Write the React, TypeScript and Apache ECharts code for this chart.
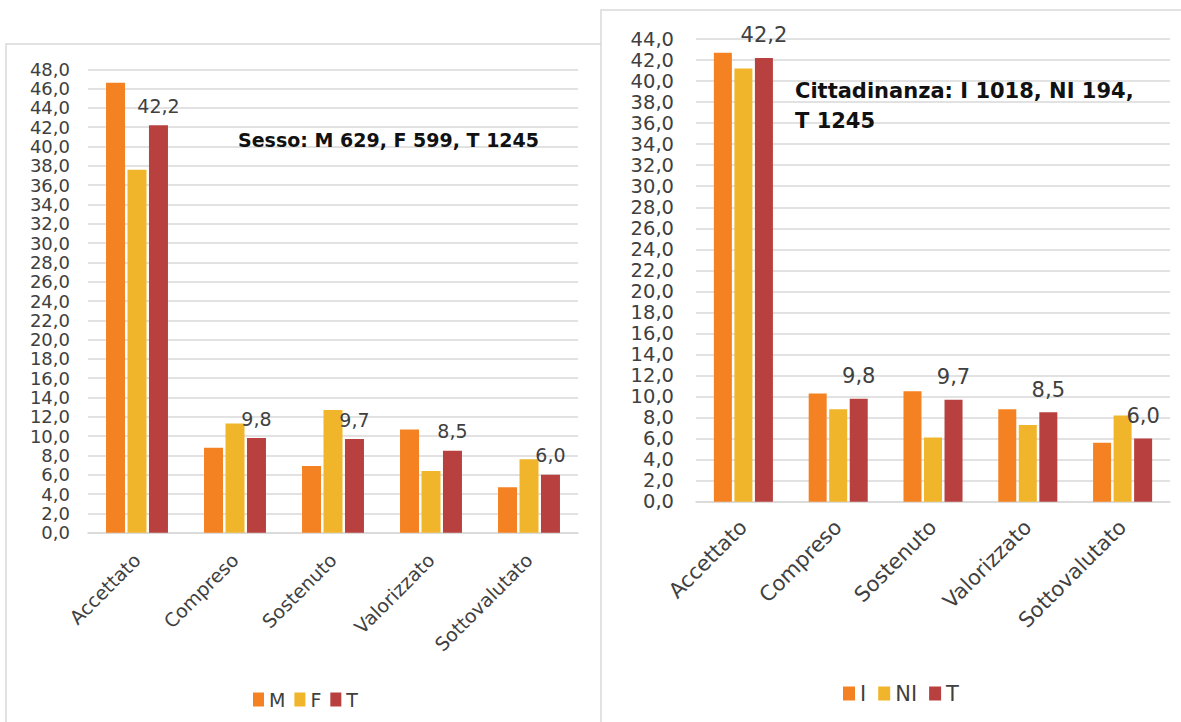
import React, { useEffect, useRef } from "react";
import * as echarts from "echarts";

const categories = ["Accettato", "Compreso", "Sostenuto", "Valorizzato", "Sottovalutato"];

// Left chart: Sesso
const seriesM = [46.6, 8.8, 6.9, 10.7, 4.7];
const seriesF = [37.6, 11.3, 12.7, 6.4, 7.6];
const seriesT1 = [42.2, 9.8, 9.7, 8.5, 6.0];

// Right chart: Cittadinanza
const seriesI = [42.7, 10.3, 10.5, 8.8, 5.6];
const seriesNI = [41.2, 8.8, 6.1, 7.3, 8.2];
const seriesT2 = [42.2, 9.8, 9.7, 8.5, 6.0];

const leftNote = "Sesso: M 629, F 599, T 1245";
const rightNote = "Cittadinanza: I 1018, NI 194,\nT 1245";

const ORANGE = "#F48222";
const YELLOW = "#F0B52A";
const RED = "#B8413F";
const TEXT = "#404040";
const GRID = "#D9D9D9";
const FONT = "DejaVu Sans";

const fmt = (v: number) => v.toFixed(1).replace(".", ",");

export default function App() {
  const ref = useRef<HTMLDivElement>(null);
  useEffect(() => {
    if (!ref.current) return;
    const chart = echarts.init(ref.current, undefined, { renderer: "svg" });

    const mkBar = (name: string, data: number[], color: string, idx: number, bw: number, gap: string, label: boolean, fs: number, dist: number) => ({
      type: "bar" as const,
      name,
      data,
      xAxisIndex: idx,
      yAxisIndex: idx,
      barWidth: bw,
      barGap: gap,
      itemStyle: { color },
      label: label
        ? {
            show: true,
            position: "top",
            distance: dist,
            fontFamily: FONT,
            fontSize: fs,
            color: TEXT,
            formatter: (p: any) => fmt(p.value),
          }
        : { show: false },
    });

    chart.setOption({
      animation: false,
      backgroundColor: "#ffffff",
      textStyle: { fontFamily: FONT },
      grid: [
        { left: 88, right: 1181 - 578, top: 69.3, bottom: 722 - 532.7 },
        { left: 696, right: 11, top: 39, bottom: 722 - 501.7 },
      ],
      xAxis: [
        {
          gridIndex: 0,
          type: "category",
          data: categories,
          axisTick: { show: false },
          axisLine: { lineStyle: { color: GRID, width: 1.5 } },
          axisLabel: { rotate: 45, margin: 24, fontFamily: FONT, fontSize: 19, color: TEXT, interval: 0 },
        },
        {
          gridIndex: 1,
          type: "category",
          data: categories,
          axisTick: { show: false },
          axisLine: { lineStyle: { color: GRID, width: 1.5 } },
          axisLabel: { rotate: 45, margin: 22, fontFamily: FONT, fontSize: 21, color: TEXT, interval: 0 },
        },
      ],
      yAxis: [
        {
          gridIndex: 0,
          type: "value",
          min: 0,
          max: 48,
          interval: 2,
          axisLine: { show: false },
          axisTick: { show: false },
          splitLine: { lineStyle: { color: GRID, width: 1.5 } },
          axisLabel: { margin: 18, fontFamily: FONT, fontSize: 18, lineHeight: 18, color: TEXT, formatter: fmt },
        },
        {
          gridIndex: 1,
          type: "value",
          min: 0,
          max: 44,
          interval: 2,
          axisLine: { show: false },
          axisTick: { show: false },
          splitLine: { lineStyle: { color: GRID, width: 1.5 } },
          axisLabel: { margin: 22, fontFamily: FONT, fontSize: 19.5, lineHeight: 19, color: TEXT, formatter: fmt },
        },
      ],
      legend: [
        {
          data: ["M", "F", "T"],
          left: 248,
          top: 685,
          itemWidth: 11,
          itemHeight: 14,
          itemGap: 9,
          icon: "rect",
          textStyle: { fontFamily: FONT, fontSize: 19, color: TEXT },
          selectedMode: false,
        },
        {
          data: ["I", "NI", "T"],
          left: 838,
          top: 678,
          itemWidth: 12,
          itemHeight: 14,
          itemGap: 12,
          icon: "rect",
          textStyle: { fontFamily: FONT, fontSize: 21, color: TEXT },
          selectedMode: false,
        },
      ],
      graphic: [
        {
          type: "rect",
          z: -10,
          shape: { x: 6, y: 44, width: 700, height: 720 },
          style: { fill: "#ffffff", stroke: GRID, lineWidth: 1.5 },
          silent: true,
        },
        {
          type: "rect",
          z: -9,
          shape: { x: 601, y: 10, width: 700, height: 760 },
          style: { fill: "#ffffff", stroke: GRID, lineWidth: 1.5 },
          silent: true,
        },
        {
          type: "text",
          x: 238,
          y: 140,
          z: 10,
          style: {
            text: leftNote,
            fontFamily: FONT,
            fontWeight: "bold",
            fontSize: 19,
            fill: "#111111",
            verticalAlign: "middle",
          },
        },
        {
          type: "text",
          x: 795,
          y: 76,
          z: 10,
          style: {
            text: rightNote,
            fontFamily: FONT,
            fontWeight: "bold",
            fontSize: 21,
            lineHeight: 30,
            fill: "#111111",
            verticalAlign: "top",
          },
        },
      ],
      series: [
        mkBar("M", seriesM, ORANGE, 0, 19, "13%", false, 19, 10),
        mkBar("F", seriesF, YELLOW, 0, 19, "13%", false, 19, 10),
        mkBar("T", seriesT1, RED, 0, 19, "13%", true, 19, 10),
        mkBar("I", seriesI, ORANGE, 1, 18, "14%", false, 21, 12),
        mkBar("NI", seriesNI, YELLOW, 1, 18, "14%", false, 21, 12),
        mkBar("T", seriesT2, RED, 1, 18, "14%", true, 21, 12),
      ],
    });
    return () => chart.dispose();
  }, []);
  return (
    <div
      ref={ref}
      style={{ position: "absolute", left: 0, top: 0, width: 1181, height: 722 }}
    />
  );
}
